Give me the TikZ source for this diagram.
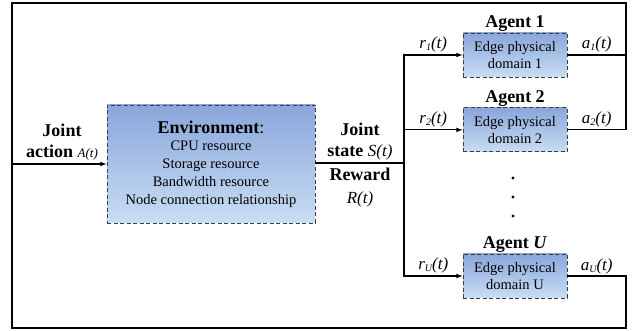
\documentclass[tikz,border=0pt]{standalone}
\usepackage{fontspec}
\setmainfont{Liberation Serif}
\usetikzlibrary{positioning}

\definecolor{boxtop}{RGB}{138,166,219}
\definecolor{boxbot}{RGB}{200,222,243}
\definecolor{boxline}{RGB}{60,60,70}

\newcommand{\lowsub}[1]{\raisebox{-0.25ex}{\fontsize{10}{10}\selectfont #1}}

\tikzset{
  edgebox/.style={rectangle, draw=boxline, dashed, dash pattern=on 4pt off 2.5pt, line width=0.9pt,
    top color=boxtop, bottom color=boxbot, align=center,
    font=\fontsize{14.5}{16.5}\selectfont},
  head/.style={font=\fontsize{18}{21}\selectfont\bfseries, inner sep=1pt},
  lbl/.style={font=\fontsize{17}{20}\selectfont\itshape, inner sep=2pt},
  link/.style={line width=1.1pt},
}

\begin{document}
\begin{tikzpicture}[x=1pt, y=-1pt, >=latex, node distance=30pt]
    \useasboundingbox (0,0) rectangle (641,331);

    % Nodes
    \node (env) [edgebox, minimum width=208pt, minimum height=118pt, inner sep=2pt,
      font=\fontsize{14.5}{17.8}\selectfont] at (211,164)
      {{\fontsize{18}{22}\selectfont\textbf{Environment}:}\\
       CPU resource\\Storage resource\\Bandwidth resource\\Node connection relationship};
    \node (dom1) [edgebox, minimum width=104pt, minimum height=44pt] at (515,55) {Edge physical\\domain 1};
    \node (dom2) [edgebox, minimum width=104pt, minimum height=44pt, below=30pt of dom1] {Edge physical\\domain 2};
    \node (domU) [edgebox, minimum width=104pt, minimum height=44pt] at (515,276) {Edge physical\\domain U};

    \node (ag1) [head, above=0pt of dom1] {Agent 1};
    \node (ag2) [head, above=0pt of dom2] {Agent 2};
    \node (agU) [head, above=0pt of domU] {Agent \textit{U}};

    \node (act) [head, align=center, anchor=south] at (62,161)
      {Joint\\action {\fontsize{13}{13}\selectfont\mdseries\itshape A(t)}};
    \node (st) [head, align=center, anchor=south] at (360,161)
      {Joint\\state {\fontsize{17}{17}\selectfont\mdseries\itshape S(t)}};
    \node (rw) [head, align=center, anchor=north] at (360,167)
      {Reward\\[2pt]{\fontsize{17}{17}\selectfont\mdseries\itshape R(t)}};

    % corner points of the feedback loop
    \coordinate (bus) at (404,163);
    \coordinate (tr) at (626,3);
    \coordinate (tl) at (12,3);
    \coordinate (bl) at (12,328);
    \coordinate (br) at (626,328);
    \coordinate (in) at (12,164);

    % Arrows
    \draw[link] (env.east |- bus) -- (bus);
    \draw[link, ->] (bus) |- node[lbl, pos=0.75, above] {r\lowsub{1}(t)} (dom1);
    \draw[link, ->] (bus) |- node[lbl, pos=0.75, above] {r\lowsub{2}(t)} (dom2);
    \draw[link, ->] (bus) |- node[lbl, pos=0.75, above] {r\lowsub{U}(t)} (domU);

    \draw[link] (dom1) -| node[lbl, pos=0.25, above] {a\lowsub{1}(t)} (tr) -- (tl) -- (bl) -- (br) |- (domU);
    \draw[link] (dom2) -| node[lbl, pos=0.25, above] {a\lowsub{2}(t)} (tr);
    \path (domU) -| node[lbl, pos=0.25, above] {a\lowsub{U}(t)} (br);
    \draw[link, ->] (in) -- (env);

    % dots between agents
    \foreach \y in {178,197,216}
      \fill (513,\y) circle (1.7pt);
  \end{tikzpicture}
\end{document}
